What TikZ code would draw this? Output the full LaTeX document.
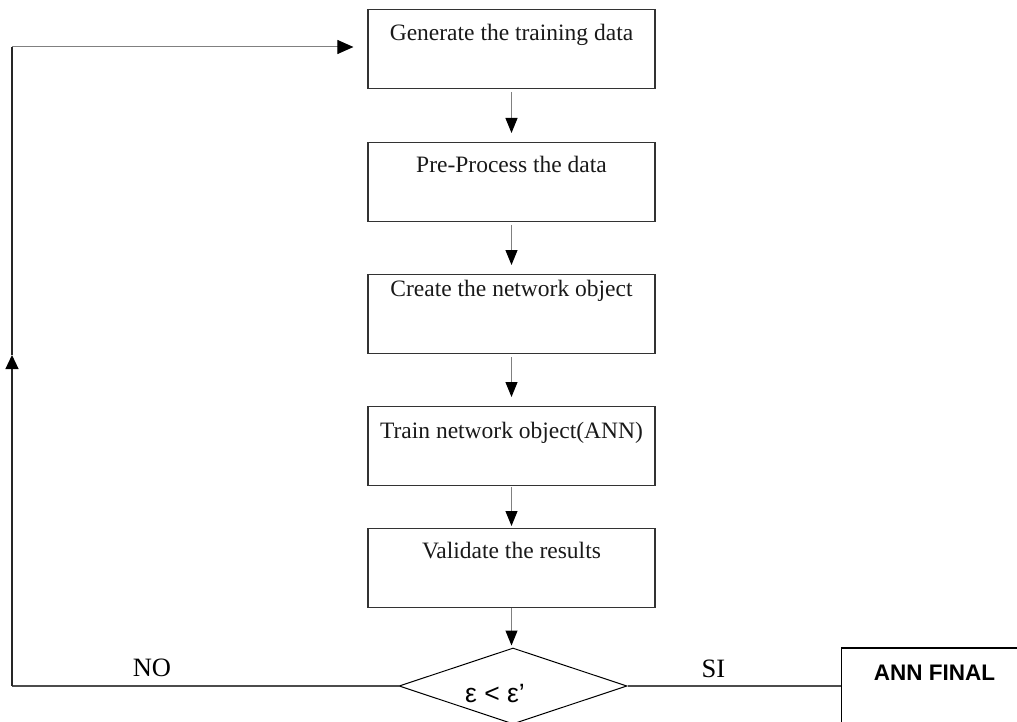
\documentclass[tikz,border=0pt]{standalone}
\usepackage{fontspec}
\setmainfont{Liberation Serif}
\newfontfamily\arial{Liberation Sans}
\usetikzlibrary{arrows.meta,shapes.geometric}

\tikzset{
  stepbox/.style={draw=black!80, line width=1.2bp, rectangle, inner xsep=0pt, inner ysep=0pt,
    minimum width=287bp, text height=#1, text depth=79bp-#1, anchor=north,
    font=\fontsize{23.5bp}{28bp}\selectfont, text=black!90},
  stepbox/.default=31bp,
  flow/.style={draw=black!50, line width=1bp,
    -{Triangle[length=15bp,width=12bp,color=black]}},
  loopline/.style={draw=black!70, line width=1.1bp},
  branchlabel/.style={font=\fontsize{26.5bp}{30bp}\selectfont, anchor=base},
}

\begin{document}
\begin{tikzpicture}[x=1bp, y=-1bp]
  \clip (0,0) rectangle (1017,722);
  \useasboundingbox (0,0) rectangle (1017,722);

  % process steps
  \node[stepbox=31bp] (b1) at (511.5,9)   {Generate the training data};
  \node[stepbox=30bp] (b2) at (511.5,142) {Pre-Process the data};
  \node[stepbox=22bp] (b3) at (511.5,274) {Create the network object};
  \node[stepbox=32bp] (b4) at (511.5,406) {Train network object(ANN)};
  \node[stepbox=30bp] (b5) at (511.5,528) {Validate the results};

  % error test
  \node[diamond, draw=black, line width=1bp, minimum width=228bp, minimum height=76bp,
        inner sep=0pt] (d) at (513,686) {};
  \node[font=\arial\fontsize{26.5bp}{30bp}\selectfont, anchor=base] (dt) at (495,702) {ε < ε’};

  % final network
  \node[draw=black, line width=1.2bp, rectangle, inner xsep=0pt, inner ysep=0pt,
        minimum width=186bp, text height=32bp, text depth=44bp, anchor=west,
        font=\arial\bfseries\fontsize{22.5bp}{26bp}\selectfont] (fin) at (841,686) {ANN FINAL};

  % main flow
  \draw[flow, shorten <=3bp, shorten >=9bp] (b1) -- (b2);
  \draw[flow, shorten <=3bp, shorten >=9bp] (b2) -- (b3);
  \draw[flow, shorten <=3bp, shorten >=9bp] (b3) -- (b4);
  \draw[flow, shorten <=1bp, shorten >=2bp] (b4) -- (b5);
  \draw[flow, shorten <=0bp, shorten >=2bp] (b5.south) -- (b5.south |- d.north);

  % NO branch: back to the start
  \coordinate (lc) at (12,686);
  \coordinate (lm) at (12,355);
  \coordinate (tc) at (12,47);
  \draw[loopline] (d.west) -- (lc);
  \draw[line width=1.1bp, draw=black!85, -{Triangle[length=14bp,width=13bp,color=black]}] (lc) -- (lm);
  \draw[line width=1.1bp, draw=black!85] (lm) -- (tc);
  \draw[draw=black!50, line width=1bp, shorten >=14bp,
        -{Triangle[length=16bp,width=14bp,color=black]}] (tc) -- (tc -| b1.west);

  % SI branch
  \draw[loopline] (d.east) -- (fin.west);

  \node[branchlabel] (no) at (152,676) {NO};
  \node[branchlabel] (si) at (713.5,677) {SI};
\end{tikzpicture}
\end{document}
